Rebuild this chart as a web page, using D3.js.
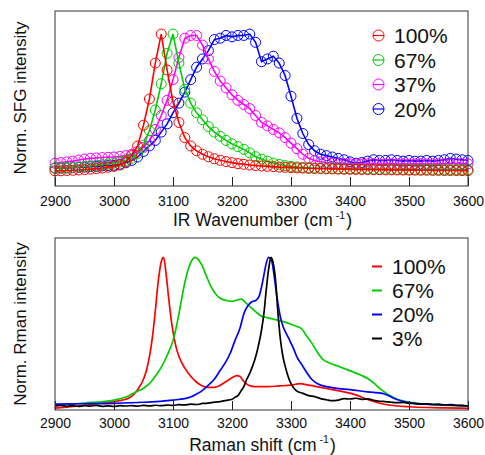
<!DOCTYPE html>
<html>
<head>
<meta charset="utf-8">
<script src="https://cdn.jsdelivr.net/npm/d3@7"></script>
<style>
  html, body { margin: 0; padding: 0; background: #fff; }
  svg { display: block; font-family: "Liberation Sans", Arial, sans-serif; }
</style>
</head>
<body>
<svg id="chart" width="485" height="455"></svg>
<script>
// ---------- DATA ----------
// Top panel: SFG spectra, x = 2900..3600 step 10
const sfgWavenumbers = d3.range(2900, 3601, 10);
const sfgLabels = ["100%", "67%", "37%", "20%"];
const sfg100 = [
  0.010,0.010,0.012,0.014,0.016,0.019,0.022,0.026,0.030,0.036,
  0.042,0.052,0.075,0.120,0.190,0.340,0.530,0.790,1.000,0.740,
  0.510,0.360,0.250,0.190,0.155,0.130,0.112,0.097,0.086,0.077,
  0.069,0.062,0.057,0.052,0.048,0.045,0.042,0.040,0.037,0.035,
  0.033,0.031,0.030,0.028,0.027,0.026,0.025,0.024,0.023,0.022,
  0.021,0.020,0.020,0.019,0.018,0.018,0.017,0.017,0.016,0.016,
  0.015,0.015,0.014,0.014,0.013,0.013,0.012,0.012,0.012,0.011,
  0.011];
const sfg67 = [
  0.030,0.030,0.032,0.035,0.038,0.042,0.046,0.050,0.055,0.060,
  0.066,0.074,0.085,0.100,0.135,0.195,0.300,0.450,0.640,0.860,
  1.000,0.790,0.600,0.500,0.430,0.380,0.330,0.290,0.260,0.230,
  0.205,0.185,0.165,0.140,0.112,0.095,0.080,0.066,0.056,0.048,
  0.042,0.038,0.035,0.032,0.030,0.029,0.028,0.027,0.026,0.025,
  0.024,0.024,0.023,0.023,0.022,0.022,0.022,0.021,0.021,0.021,
  0.020,0.020,0.020,0.020,0.020,0.019,0.019,0.019,0.019,0.019,
  0.019];
const sfg37 = [
  0.065,0.070,0.075,0.080,0.088,0.095,0.100,0.103,0.106,0.108,
  0.110,0.114,0.120,0.130,0.150,0.180,0.230,0.310,0.410,0.520,
  0.670,0.830,0.970,0.990,0.990,0.920,0.820,0.730,0.660,0.610,
  0.560,0.520,0.490,0.460,0.410,0.360,0.335,0.310,0.285,0.250,
  0.210,0.170,0.130,0.100,0.085,0.075,0.070,0.066,0.063,0.062,
  0.060,0.061,0.059,0.060,0.062,0.058,0.060,0.061,0.059,0.060,
  0.058,0.060,0.061,0.059,0.060,0.062,0.060,0.061,0.063,0.062,
  0.060];
const sfg20 = [
  0.030,0.030,0.031,0.033,0.035,0.037,0.040,0.042,0.045,0.048,
  0.050,0.058,0.068,0.085,0.110,0.150,0.190,0.230,0.290,0.350,
  0.430,0.500,0.580,0.670,0.760,0.820,0.880,0.960,0.970,0.990,
  0.980,0.990,0.990,1.000,0.940,0.800,0.820,0.840,0.790,0.700,
  0.550,0.390,0.280,0.200,0.155,0.130,0.120,0.110,0.100,0.090,
  0.075,0.065,0.070,0.080,0.090,0.085,0.085,0.090,0.085,0.080,
  0.085,0.080,0.080,0.085,0.080,0.085,0.090,0.100,0.095,0.090,
  0.085];

// Bottom panel: Raman spectra, [shift, intensity]
const ramanLabels = ["100%", "67%", "20%", "3%"];
const raman100 = [
  [2900,-0.015],[2920,-0.008],[2940,0.0],[2960,0.01],[2980,0.02],[3000,0.03],[3010,0.036],
  [3020,0.045],[3030,0.065],[3040,0.11],[3050,0.18],[3055,0.24],[3060,0.33],[3065,0.46],
  [3070,0.64],[3075,0.84],[3080,0.97],[3084,1.0],[3088,0.9],[3092,0.75],[3096,0.61],
  [3100,0.5],[3105,0.4],[3110,0.335],[3115,0.29],[3120,0.255],[3130,0.2],[3140,0.16],
  [3150,0.135],[3160,0.125],[3170,0.125],[3180,0.14],[3190,0.165],[3200,0.19],[3208,0.205],
  [3213,0.2],[3220,0.165],[3228,0.14],[3240,0.13],[3260,0.13],[3280,0.135],[3300,0.14],
  [3315,0.15],[3330,0.14],[3350,0.125],[3370,0.11],[3390,0.095],[3410,0.075],[3425,0.05],
  [3440,0.03],[3460,0.01],[3480,0.0],[3500,-0.005],[3530,-0.01],[3560,-0.013],[3600,-0.016]];
const raman67 = [
  [2900,0.007],[2950,0.02],[3000,0.04],[3020,0.06],[3030,0.08],[3040,0.1],[3050,0.12],
  [3060,0.15],[3070,0.2],[3080,0.26],[3090,0.34],[3100,0.44],[3105,0.52],[3110,0.62],
  [3115,0.73],[3120,0.83],[3125,0.91],[3130,0.965],[3137,1.0],[3145,0.975],[3150,0.94],
  [3157,0.87],[3165,0.8],[3172,0.755],[3180,0.725],[3190,0.71],[3200,0.705],[3210,0.715],
  [3216,0.72],[3222,0.7],[3230,0.67],[3240,0.635],[3250,0.605],[3260,0.595],[3270,0.585],
  [3280,0.575],[3290,0.565],[3300,0.55],[3310,0.535],[3318,0.52],[3325,0.48],[3335,0.425],
  [3345,0.36],[3355,0.31],[3365,0.29],[3375,0.275],[3385,0.26],[3395,0.245],[3405,0.23],
  [3420,0.205],[3430,0.185],[3440,0.155],[3450,0.12],[3460,0.09],[3470,0.065],[3480,0.045],
  [3495,0.03],[3510,0.02],[3530,0.013],[3550,0.007],[3575,0.003],[3600,0.0]];
const raman20 = [
  [2900,0.013],[2950,0.015],[3000,0.018],[3050,0.025],[3100,0.04],[3120,0.05],[3130,0.06],
  [3140,0.08],[3150,0.105],[3160,0.14],[3170,0.18],[3180,0.24],[3190,0.3],[3197,0.355],
  [3205,0.44],[3214,0.53],[3220,0.62],[3226,0.67],[3233,0.7],[3240,0.71],[3246,0.74],
  [3250,0.8],[3254,0.88],[3258,0.96],[3262,1.0],[3267,0.98],[3272,0.86],[3276,0.74],
  [3282,0.6],[3287,0.53],[3293,0.48],[3298,0.44],[3305,0.38],[3310,0.33],[3318,0.28],
  [3325,0.235],[3335,0.18],[3345,0.15],[3360,0.13],[3375,0.12],[3400,0.11],[3430,0.095],
  [3455,0.085],[3465,0.07],[3475,0.05],[3490,0.03],[3510,0.018],[3540,0.01],[3570,0.005],
  [3600,0.0]];
const raman3 = [
  [2900,0.0],[2910,0.004],[2920,-0.002],[2930,0.003],[2940,-0.003],[2950,0.002],[2960,-0.001],
  [2970,0.004],[2980,-0.002],[2990,0.001],[3000,-0.003],[3010,0.002],[3020,0.0],[3030,0.003],
  [3040,-0.001],[3050,0.004],[3060,0.001],[3070,0.005],[3080,0.002],[3090,0.006],[3100,0.004],
  [3110,0.009],[3120,0.007],[3130,0.012],[3140,0.01],[3150,0.017],[3160,0.019],[3170,0.026],
  [3180,0.03],[3190,0.037],[3200,0.045],[3205,0.058],[3210,0.07],[3215,0.1],[3220,0.13],
  [3225,0.18],[3230,0.22],[3235,0.27],[3240,0.33],[3245,0.41],[3250,0.51],[3254,0.62],
  [3258,0.78],[3262,0.92],[3266,1.0],[3270,0.96],[3274,0.84],[3278,0.62],[3282,0.45],
  [3286,0.34],[3290,0.27],[3295,0.2],[3300,0.15],[3305,0.12],[3310,0.1],[3320,0.085],
  [3330,0.07],[3340,0.063],[3350,0.05],[3360,0.042],[3370,0.036],[3380,0.04],[3390,0.05],
  [3400,0.047],[3410,0.052],[3420,0.045],[3430,0.048],[3440,0.038],[3450,0.032],[3460,0.03],
  [3470,0.025],[3480,0.022],[3490,0.024],[3500,0.018],[3510,0.016],[3520,0.013],[3530,0.015],
  [3540,0.01],[3550,0.012],[3560,0.007],[3570,0.009],[3580,0.005],[3590,0.004],[3600,0.0]];

const xTicks = [2900, 3000, 3100, 3200, 3300, 3400, 3500, 3600];

// ---------- STYLE ----------
const sfgColors = ["#ff0000", "#00cc00", "#ff00ff", "#0000ff"];
const ramanColors = ["#ff0000", "#00cc00", "#0000ff", "#000000"];
const FONT = "'Liberation Sans', Arial, sans-serif";

const svg = d3.select("#chart");
const L = 55, R = 468;

const x = d3.scaleLinear().domain([2900, 3600]).range([L, R]);

function frame(top, bottom, pad) {
  const g = svg.append("g").attr("transform", `translate(0,${bottom})`);
  g.call(d3.axisBottom(x).tickValues(xTicks).tickFormat(d3.format("d"))
        .tickSizeInner(-9).tickSizeOuter(0).tickPadding(pad));
  g.attr("font-family", FONT).attr("font-size", 14);
  g.select(".domain").remove();
  g.selectAll(".tick line").attr("stroke", "#222");
  g.selectAll(".tick text").attr("font-size", 14).attr("fill", "#111");
  svg.append("rect").attr("x", L).attr("y", top).attr("width", R - L).attr("height", bottom - top)
    .attr("fill", "none").attr("stroke", "#333").attr("stroke-width", 1);
}

function xTitle(text, yBase) {
  const t = svg.append("text").attr("x", (L + R) / 2 + 1).attr("y", yBase)
    .attr("text-anchor", "middle").attr("font-size", 17.5).attr("fill", "#111");
  t.append("tspan").text(text + " (cm");
  t.append("tspan").attr("font-size", 10.5).attr("dx", 3).attr("dy", -7.5).text("-1");
  t.append("tspan").attr("dx", 1).attr("dy", 7.5).text(")");
}
function yTitle(text, cy) {
  svg.append("text").attr("transform", `translate(26,${cy}) rotate(-90)`)
    .attr("text-anchor", "middle").attr("font-size", 17).attr("fill", "#111").text(text);
}

// ---------- TOP PANEL ----------
const topT = 11, topB = 186;
const y1 = d3.scaleLinear().domain([-0.1, 1.167]).range([topB, topT]);
const sfgSeries = [sfg100, sfg67, sfg37, sfg20];
const line1 = d3.line().x(d => x(d[0])).y(d => y1(d[1]));

const topG = svg.append("g");
[3, 2, 1, 0].forEach(i => {
  const pts = sfgWavenumbers.map((w, k) => [w, sfgSeries[i][k]]);
  const g = topG.append("g");
  g.selectAll("circle").data(pts).enter().append("circle")
    .attr("cx", d => x(d[0])).attr("cy", d => y1(d[1])).attr("r", 5)
    .attr("fill", "none").attr("stroke", sfgColors[i]).attr("stroke-width", 1);
  g.append("path").datum(pts).attr("d", line1)
    .attr("fill", "none").attr("stroke", sfgColors[i]).attr("stroke-width", 1.6);
});
frame(topT, topB, 10.5);
xTitle("IR Wavenumber", 226);
yTitle("Norm. SFG intensity", 98);

// top legend
sfgLabels.forEach((lab, i) => {
  const cy = 35.5 + i * 24.5;
  svg.append("circle").attr("cx", 378.5).attr("cy", cy).attr("r", 5.5)
    .attr("fill", "none").attr("stroke", sfgColors[i]).attr("stroke-width", 1);
  svg.append("line").attr("x1", 373).attr("x2", 384).attr("y1", cy).attr("y2", cy)
    .attr("stroke", sfgColors[i]).attr("stroke-width", 1.2);
  svg.append("text").attr("x", 394).attr("y", cy + 7.5).attr("font-size", 21)
    .attr("fill", "#111").text(lab);
});

// ---------- BOTTOM PANEL ----------
const botT = 238, botB = 410;
const y2 = d3.scaleLinear().domain([-0.027, 1.131]).range([botB, botT]);
const ramanSeries = [raman100, raman67, raman20, raman3];
const line2 = d3.line().x(d => x(d[0])).y(d => y2(d[1])).curve(d3.curveMonotoneX);

[0, 1, 2, 3].forEach(i => {
  svg.append("path").datum(ramanSeries[i]).attr("d", line2)
    .attr("fill", "none").attr("stroke", ramanColors[i]).attr("stroke-width", 1.7);
});
frame(botT, botB, 8.4);
xTitle("Raman shift", 450.5);
yTitle("Norm. Rman intensity", 324);

ramanLabels.forEach((lab, i) => {
  const cy = 266.5 + i * 24;
  svg.append("line").attr("x1", 372).attr("x2", 382).attr("y1", cy).attr("y2", cy)
    .attr("stroke", ramanColors[i]).attr("stroke-width", 2);
  svg.append("text").attr("x", 392).attr("y", cy + 7.5).attr("font-size", 21)
    .attr("fill", "#111").text(lab);
});
</script>
</body>
</html>
